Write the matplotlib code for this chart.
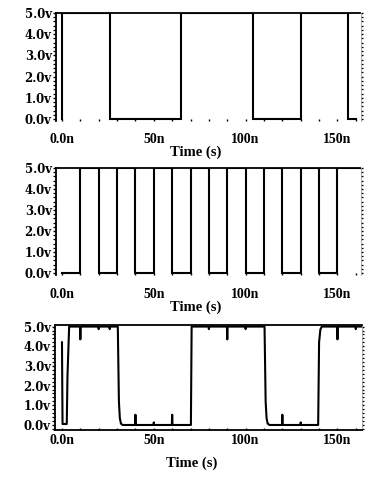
import numpy as np
import matplotlib
matplotlib.use("Agg")
import matplotlib.pyplot as plt
from matplotlib.ticker import MultipleLocator, FixedLocator

# ---- data (times in ns, voltages in V) ----
# data input: level changes
d_edge_t = [0, 26, 65, 104, 130, 156]
d_edge_v = [5, 0, 5, 0, 5, 0]
d_start_v = 0.0
d_end_t = 160

# clock: 20 ns period, rising edges at 10, 30, ...
clk_edge_t = [10, 20, 30, 40, 50, 60, 70, 80, 90, 100, 110, 120, 130, 140, 150]
clk_edge_v = [5, 0, 5, 0, 5, 0, 5, 0, 5, 0, 5, 0, 5, 0, 5]
clk_start_v = 0.0
clk_end_t = 162.5

# output: piecewise waveform breakpoints
q_t = [0.0, 0.3, 2.6, 3.0, 3.9, 30.4, 31.0, 31.5, 32.1, 33.0, 70.2, 70.6,
       110.3, 110.9, 111.4, 112.0, 113.0, 139.5, 140.0, 140.7, 141.5, 163.1]
q_v = [4.2, 0.05, 0.05, 2.5, 5.0, 5.0, 1.2, 0.35, 0.07, 0.0, 0.0, 5.0,
       5.0, 1.2, 0.35, 0.07, 0.0, 0.0, 4.2, 4.85, 5.0, 5.0]
# switching glitches on the output (time, offset from the settled level)
glitch_t = [10, 20, 26, 40, 50, 60, 80, 90, 100, 120, 130, 150, 160]
glitch_dv = [-0.65, -0.13, -0.13, 0.52, 0.13, 0.52, -0.13, -0.65, -0.13,
             0.52, 0.13, -0.65, -0.13]

x_ticks = [0, 50, 100, 150]
x_tick_labels = ["0.0n", "50n", "100n", "150n"]
y_ticks = [0, 1, 2, 3, 4, 5]
y_tick_labels = ["0.0v", "1.0v", "2.0v", "3.0v", "4.0v", "5.0v"]


def step_trace(edge_t, edge_v, v0, t_end):
    t = [0.0]
    v = [v0]
    for te, ve in zip(edge_t, edge_v):
        t += [te, te]
        v += [v[-1], ve]
    t.append(t_end)
    v.append(v[-1])
    return np.array(t, float), np.array(v, float)


def with_glitches(t, v, gt, gdv, w=0.18):
    t = list(t)
    v = list(v)
    for g, dv in zip(gt, gdv):
        base = float(np.interp(g, t, v))
        pts = [(g - w, base), (g, base + dv), (g + w, base)]
        for pt in pts:
            i = np.searchsorted(t, pt[0])
            t.insert(i, pt[0])
            v.insert(i, pt[1])
    return np.array(t), np.array(v)


W, H = 365, 483
fig = plt.figure(figsize=(W / 100, H / 100), dpi=100)
fig.patch.set_facecolor("white")

serif = ["Liberation Serif", "DejaVu Serif"]
ylab_font = ["DejaVu Serif"]


def px_axes(left, top, right, bottom):
    return fig.add_axes([left / W, (H - bottom) / H, (right - left) / W, (bottom - top) / H])


def style(ax, xlim, ylim, bottom_solid, tick_pad, xlabel_pos):
    ax.set_xlim(*xlim)
    ax.set_ylim(*ylim)
    ax.xaxis.set_major_locator(FixedLocator(x_ticks))
    ax.set_xticklabels(x_tick_labels, fontfamily=serif, fontweight="bold", fontsize=10)
    ax.xaxis.set_minor_locator(MultipleLocator(10))
    ax.yaxis.set_major_locator(FixedLocator(y_ticks))
    ax.set_yticklabels(y_tick_labels, fontfamily=ylab_font, fontweight="bold", fontsize=8.4)
    ax.yaxis.set_minor_locator(MultipleLocator(0.2))
    ax.tick_params(axis="y", which="major", direction="out", length=2.5, width=1.0, pad=0.6,
                   colors="black")
    ax.tick_params(axis="y", which="minor", direction="out", length=2.0, width=0.9)
    ax.tick_params(axis="y", which="both", right=True)
    ax.yaxis.set_tick_params(which="both", labelright=False)
    for tk in ax.yaxis.get_major_ticks() + ax.yaxis.get_minor_ticks():
        tk.tick2line.set_markersize(1.6)
        tk.tick2line.set_color("#555555")
    ax.tick_params(axis="x", which="both", direction="in", length=1.6, width=1.0,
                   pad=tick_pad, top=False)
    for s in ("top", "left"):
        ax.spines[s].set_linewidth(1.3)
    ax.spines["right"].set_linewidth(0.5)
    ax.spines["right"].set_color("#888888")
    if bottom_solid:
        ax.spines["bottom"].set_linewidth(1.3)
    else:
        ax.spines["bottom"].set_visible(False)
    ax.set_xlabel("Time (s)", fontfamily=serif, fontweight="bold", fontsize=10.5)
    ax.xaxis.set_label_coords(*xlabel_pos)
    ax.set_facecolor("white")


lw = 1.5

# input waveform
ax1 = px_axes(56, 13, 360.5, 120.5)
t, v = step_trace(d_edge_t, d_edge_v, d_start_v, d_end_t)
ax1.plot(t, v, color="black", lw=lw, solid_joinstyle="miter")
style(ax1, (-3.3, 162.6), (-0.07, 5.0), False, 9, (0.458, -0.235))

# clock
ax2 = px_axes(56, 168, 360.5, 275)
t, v = step_trace(clk_edge_t, clk_edge_v, clk_start_v, clk_end_t)
ax2.plot(t, v, color="black", lw=lw, solid_joinstyle="miter")
style(ax2, (-3.3, 162.6), (-0.1, 5.0), False, 9, (0.458, -0.235))

# output
ax3 = px_axes(55, 325, 361.5, 429.5)
t, v = with_glitches(q_t, q_v, glitch_t, glitch_dv)
ax3.plot(t, v, color="black", lw=lw)
style(ax3, (-3.8, 163.1), (-0.23, 5.08), True, 3, (0.446, -0.26))

fig.savefig("out.png", dpi=100, facecolor="white")
